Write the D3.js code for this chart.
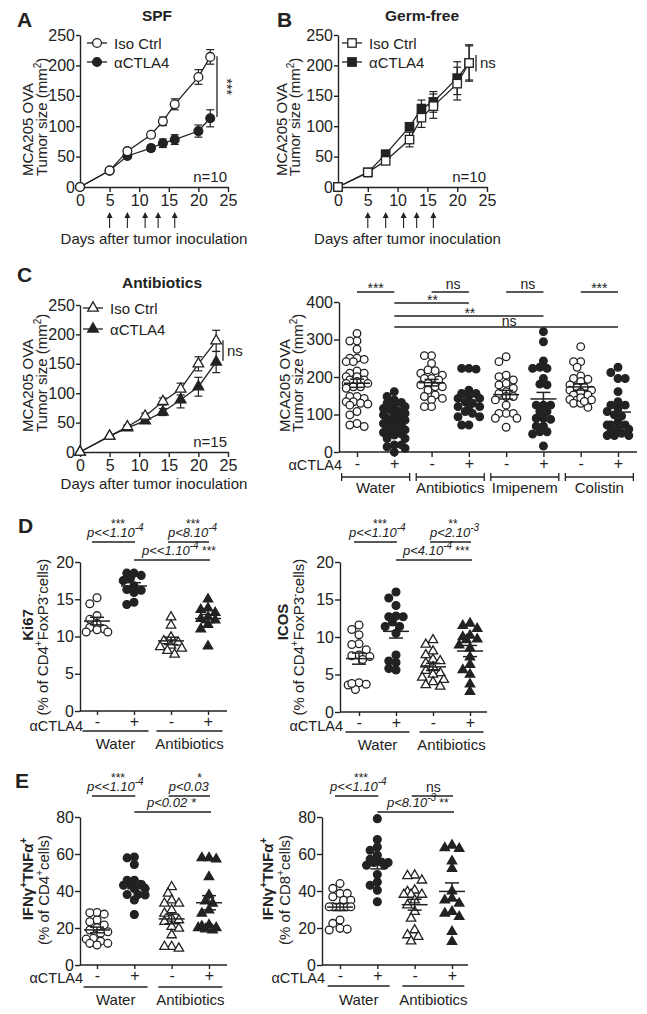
<!DOCTYPE html>
<html><head><meta charset="utf-8">
<script src="https://cdn.jsdelivr.net/npm/d3@7"></script>
<style>
body{margin:0;background:#fff}
svg{display:block}
text{font-family:"Liberation Sans",Arial,Helvetica,sans-serif;fill:#222}
</style>
</head><body>
<svg id="c" width="647" height="1014"></svg>
<script>
// ---------------- DATA ----------------
const dayTicks = [0,5,10,15,20,25];
const sizeTicks = [0,50,100,150,200,250];
const treatDays = [5,8,11,13.2,16];

// A: SPF
const daysA = [0,5,8,12,14,16,20,22];
const spfIso = [0,27,59,86,108,136,181,214];
const spfIsoErr = [0,2,3,5,7,9,12,12];
const spfCtla = [0,27,51,64,72,78,92,113];
const spfCtlaErr = [0,2,3,5,7,8,10,14];

// B: Germ-free
const daysB = [0,5,8,12,14,16,20,22];
const gfIso = [0,24,43,78,114,133,170,204];
const gfIsoErr = [0,2,4,12,16,20,27,30];
const gfCtla = [0,24,54,99,129,140,179,204];
const gfCtlaErr = [0,2,3,4,14,17,27,28];

// C left: Antibiotics
const daysC = [0,5,8,11,14,17,20,23];
const abIso = [0,27,43,61,86,107,150,189];
const abIsoErr = [0,2,3,5,6,10,12,18];
const abCtla = [0,27,41,53,68,89,111,153];
const abCtlaErr = [0,2,3,4,6,14,16,18];

// C right: tumor size by treatment
const treatGroups = ["Water","Antibiotics","Imipenem","Colistin"];
const waterIso = [316,296,296,274,250,247,250,241,241,216,210,210,201,201,192,188,192,183,183,174,174,170,148,143,148,134,134,130,128,125,108,99,76,68,72];
const waterCtla = [161,148,139,132,125,121,116,112,103,99,96,96,85,85,85,76,72,72,59,59,52,52,48,36,36,19,19,14,10,0,130,110,90,65,45];
const abxIso = [257,257,236,219,217,210,205,196,196,192,183,179,174,174,165,152,148,143,139,121,121];
const abxCtla = [221,223,223,165,156,156,150,143,143,134,130,121,121,121,108,103,94,94,72,72];
const imiIso = [254,241,205,201,192,183,179,170,161,156,148,148,139,125,103,103,103,90,90,66];
const imiCtla = [321,294,243,226,223,223,196,181,179,125,125,125,108,108,90,90,87,69,69,54,48,54,16];
const colIso = [281,241,241,226,203,196,194,188,179,172,172,165,165,160,152,152,139,140,139,130,130,119,145,135];
const colCtla = [226,212,196,196,161,134,125,125,116,108,99,96,72,72,72,61,61,44,44,44,50,55,80];

// D: Ki67 and ICOS
const kiWaterIso = [15.2,14.4,12.8,12.3,11.7,11.2,11.0,10.6,10.6,10.9];
const kiWaterCtla = [18.5,18.5,18.2,17.8,17.5,16.8,16.3,16.2,15.9,14.6,14.3];
const kiAbxIso = [12.6,11.5,9.9,9.4,9.2,8.8,8.6,8.4,8.1,7.6];
const kiAbxCtla = [15.0,13.8,13.6,13.2,12.6,12.4,12.2,11.6,11.0,8.7];
const icosWaterIso = [11.6,11.0,10.3,9.1,9.0,8.3,7.6,7.5,7.4,7.0,3.9,3.7,3.6,3.0,3.8];
const icosWaterCtla = [16.0,15.2,14.2,12.8,12.7,12.7,12.0,11.4,11.4,10.5,7.6,6.8,6.6,5.6,5.8];
const icosAbxIso = [9.6,9.0,8.1,7.6,7.0,6.8,6.5,6.0,5.5,5.2,5.0,4.6,4.3,4.0,3.6,3.4];
const icosAbxCtla = [11.8,11.5,11.1,10.2,10.0,9.7,9.6,8.9,8.5,7.3,6.3,5.6,5.0,3.7,2.7];
const pctTicks20 = [0,5,10,15,20];

// E: IFNg+TNFa+
const cd4WaterIso = [28.4,27.5,28.2,24.3,23.4,21.6,20.1,18.9,18.0,17.1,14.4,14.0,12.9,11.7,11.7,10.8];
const cd4WaterCtla = [57.9,58.4,54.3,45.8,45.8,43.5,43.1,43.5,41.3,41.3,38.1,37.8,38.1,35.1,27.3];
const cd4AbxIso = [42.2,38.7,35,33.3,33.3,29.7,27.9,25.2,24.3,23.4,20.7,19.8,16.2,9.9,9.0,9.9];
const cd4AbxCtla = [57.9,57.2,57.9,47.6,37.8,33.3,34.5,29.7,27.9,20.1,21.6,20.1,18.9,19.4,21];
const cd8WaterIso = [44,41.4,38.7,38.7,36.9,35,35,31.5,31.5,31.5,31.5,31.5,24.3,22.5,19.8,18.9,19.4];
const cd8WaterCtla = [79.1,67.8,63.8,62,59.3,55.4,55.7,55.4,57.2,53.9,53.9,48.9,43.1,44.9,40.4,34.2];
const cd8AbxIso = [48.5,45.8,48.2,40.4,39.6,38.1,38.1,38.1,35,32.4,28.8,25.2,18.9,16.2,15.3,12.9];
const cd8AbxCtla = [64.7,62.9,63.3,56.1,52.1,39.9,36,35,33.3,28.8,26.1,27.9,18,12.6];
const pctTicks80 = [0,20,40,60,80];

// ---------------- DRAWING ----------------
const INK = "#222";
const FONT = '"Liberation Sans", Arial, Helvetica, sans-serif';
const svg = d3.select("#c");

function styleAxis(g){
  g.attr("font-family",FONT).attr("font-size",16);
  g.selectAll("path,line").attr("stroke",INK).attr("stroke-width",1.4);
  g.selectAll("text").attr("fill",INK);
}
function txt(g,x,y,s,o={}){
  const t=g.append("text").attr("x",x).attr("y",y).text(s)
    .attr("font-size",o.size||15).attr("text-anchor",o.anchor||"start");
  if(o.bold) t.attr("font-weight","bold");
  if(o.italic) t.attr("font-style","italic");
  if(o.family) t.attr("font-family",o.family);
  return t;
}
function line(g,x1,y1,x2,y2,w){
  return g.append("line").attr("x1",x1).attr("y1",y1).attr("x2",x2).attr("y2",y2)
    .attr("stroke",INK).attr("stroke-width",w||1.4);
}
function marker(g,shape,filled,cx,cy,sz){
  let m;
  if(shape==="circle") m=g.append("circle").attr("cx",cx).attr("cy",cy).attr("r",sz);
  else if(shape==="square") m=g.append("rect").attr("x",cx-sz).attr("y",cy-sz).attr("width",2*sz).attr("height",2*sz);
  else m=g.append("path").attr("d",d3.symbol(d3.symbolTriangle,sz*sz*2.4)()).attr("transform",`translate(${cx},${cy})`);
  m.attr("fill",filled?INK:"#fff").attr("stroke",INK).attr("stroke-width",1.3);
  return m;
}
function panelLetter(x,y,s){
  txt(svg,x,y,s,{size:21,bold:true,family:'"Liberation Sans Narrow","Liberation Sans",Arial,sans-serif'});
}
function yLabelRot(x,y,anchor,parts,size){
  const t=svg.append("text").attr("transform",`translate(${x},${y}) rotate(-90)`)
    .attr("text-anchor",anchor).attr("font-size",size||15);
  parts.forEach(p=>{
    const ts=t.append("tspan").text(p.t);
    if(p.bold) ts.attr("font-weight","bold");
    if(p.sup){ ts.attr("font-size",10).attr("dy",-6); }
    if(p.after){ ts.attr("dy",6); }
  });
  return t;
}

// ---------- line charts ----------
function lineChart(o){
  const g=svg.append("g");
  const x=d3.scaleLinear().domain([0,25]).range([o.x0,o.x1]);
  const y=d3.scaleLinear().domain([0,250]).range([o.y0,o.y1]);
  g.append("g").attr("transform",`translate(0,${o.y0})`)
    .call(d3.axisBottom(x).tickValues(dayTicks).tickSize(5).tickSizeOuter(0).tickPadding(3)).call(styleAxis);
  g.append("g").attr("transform",`translate(${o.x0},0)`)
    .call(d3.axisLeft(y).tickValues(sizeTicks).tickSize(4).tickSizeOuter(0).tickPadding(1)).call(styleAxis);
  o.series.slice().reverse().forEach(s=>{
    const pts=o.days.map((d,i)=>({d,v:s.v[i],e:s.e[i]}));
    g.append("path").datum(pts).attr("d",d3.line().x(p=>x(p.d)).y(p=>y(p.v)))
      .attr("fill","none").attr("stroke",INK).attr("stroke-width",1.3);
    pts.filter(p=>p.e>2).forEach(p=>{
      const xx=x(p.d);
      line(g,xx,y(p.v+p.e),xx,y(p.v-p.e),1.2);
      line(g,xx-4,y(p.v+p.e),xx+4,y(p.v+p.e),1.2);
      line(g,xx-4,y(p.v-p.e),xx+4,y(p.v-p.e),1.2);
    });
    pts.forEach(p=>marker(g,o.shape,s.filled,x(p.d),y(p.v),o.msz));
  });
  o.series.forEach((s,i)=>{
    const ly=o.legY[i];
    line(g,o.legX-10,ly,o.legX+10,ly,1.3);
    marker(g,o.shape,s.filled,o.legX,ly,o.msz);
    txt(g,o.legX+17,ly+5.5,s.name,{size:15});
  });
  if(o.arrows){
    treatDays.forEach(d=>{
      const xx=x(d);
      line(g,xx,o.y0+41,xx,o.y0+29,1.1);
      g.append("path").attr("d",`M${xx},${o.y0+25}L${xx-3},${o.y0+31}L${xx+3},${o.y0+31}Z`).attr("fill",INK);
    });
  }
  txt(g,(o.x0+o.x1)/2+(o.labDx||0),o.xlabY,"Days after tumor inoculation",{size:15,anchor:"middle"});
  txt(g,o.x1-1,o.y0-5,o.n,{size:15,anchor:"end"});
  txt(g,o.titleX,o.titleY,o.title,{size:15.5,bold:true,anchor:"middle"});
  const sx=o.sig.x;
  line(g,sx,y(o.sig.top),sx,y(o.sig.bot),1.3);
  if(o.sig.rot){
    g.append("text").attr("transform",`translate(${sx+5},${(y(o.sig.top)+y(o.sig.bot))/2}) rotate(90)`)
      .attr("text-anchor","middle").attr("font-size",14).text(o.sig.label);
  } else {
    txt(g,sx+4,(y(o.sig.top)+y(o.sig.bot))/2+5,o.sig.label,{size:15});
  }
  return {x,y};
}

lineChart({x0:80,x1:228,y0:187,y1:35,days:daysA,shape:"circle",msz:4.4,
  series:[{name:"Iso Ctrl",v:spfIso,e:spfIsoErr,filled:false},{name:"\u03b1CTLA4",v:spfCtla,e:spfCtlaErr,filled:true}],
  legX:97,legY:[43,62],arrows:true,xlabY:244,n:"n=10",title:"SPF",titleX:157,titleY:21,
  sig:{x:217,top:215,bot:115,label:"***",rot:true}});
lineChart({x0:338,x1:487,y0:187,y1:35,days:daysB,shape:"square",msz:4.2,
  series:[{name:"Iso Ctrl",v:gfIso,e:gfIsoErr,filled:false},{name:"\u03b1CTLA4",v:gfCtla,e:gfCtlaErr,filled:true}],
  legX:352,legY:[43,62],arrows:true,xlabY:244,labDx:-5,n:"n=10",title:"Germ-free",titleX:422,titleY:21,
  sig:{x:476,top:217,bot:190,label:"ns"}});
lineChart({x0:80,x1:228,y0:452,y1:305,days:daysC,shape:"triangle",msz:4.5,
  series:[{name:"Iso Ctrl",v:abIso,e:abIsoErr,filled:false},{name:"\u03b1CTLA4",v:abCtla,e:abCtlaErr,filled:true}],
  legX:93,legY:[308,329],arrows:false,xlabY:489,n:"n=15",title:"Antibiotics",titleX:162,titleY:288,
  sig:{x:223,top:190,bot:155,label:"ns"}});

[[33,47,176],[287,300,176],[33,47,432],[290,303,432]].forEach(([a,b,yy])=>{
  yLabelRot(a,yy,"start",[{t:"MCA205 OVA"}]);
  yLabelRot(b,yy,"start",[{t:"Tumor  size (mm"},{t:"2",sup:true},{t:")",after:true}]);
});

panelLetter(17,27,"A");
panelLetter(277,27,"B");
panelLetter(17,282,"C");
panelLetter(18,533,"D");
panelLetter(15,788,"E");

// ---------- dot plots ----------
function swarm(vals,y,minD,step,maxOff){
  const placed=[],out=new Array(vals.length);
  vals.map((v,i)=>({v,i})).sort((a,b)=>b.v-a.v).forEach(p=>{
    const py=y(p.v);
    let best=null,bestD=-1,chosen=null;
    for(let k=0;;k++){
      const off=k===0?0:(k%2?-1:1)*Math.ceil(k/2)*step;
      if(Math.abs(off)>maxOff) break;
      const dmin=placed.length?d3.min(placed,q=>Math.hypot(q.x-off,q.y-py)):1e9;
      if(dmin>=minD){chosen=off;break;}
      if(dmin>bestD){bestD=dmin;best=off;}
    }
    if(chosen===null) chosen=best;
    placed.push({x:chosen,y:py}); out[p.i]=chosen;
  });
  return out;
}
function dotPlot(o){
  const g=svg.append("g");
  const y=d3.scaleLinear().domain(o.domain).range([o.y0,o.y1]);
  const x=d3.scalePoint().domain(d3.range(o.groups.length)).range(o.gx);
  line(g,o.x0,o.y0,o.x1,o.y0);
  const ax=g.append("g").attr("transform",`translate(0,${o.y0})`)
    .call(d3.axisBottom(x).tickSize(o.tick||5).tickPadding(o.tickPad||1).tickFormat(i=>o.groups[i].ctla?"+":"-"))
    .call(styleAxis);
  ax.select(".domain").remove();
  g.append("g").attr("transform",`translate(${o.x0},0)`)
    .call(d3.axisLeft(y).tickValues(o.ticks).tickSize(5).tickSizeOuter(0).tickPadding(1)).call(styleAxis);
  txt(g,o.ctlaX,o.signY+2,"\u03b1CTLA4",{size:14.5,anchor:"end"});
  o.groups.forEach((gr,i)=>{
    const cx=x(i);
    const offs=swarm(gr.v,y,o.minD,o.step,o.maxOff);
    gr.v.forEach((v,j)=>marker(g,gr.shape,gr.ctla,cx+offs[j],y(v),gr.shape==="circle"?o.r:o.tr));
    const m=d3.mean(gr.v), se=d3.deviation(gr.v)/Math.sqrt(gr.v.length);
    line(g,cx-13,y(m),cx+13,y(m),1.5);
    line(g,cx,y(m-se),cx,y(m+se),1.5);
    line(g,cx-7,y(m-se),cx+7,y(m-se),1.5);
    line(g,cx-7,y(m+se),cx+7,y(m+se),1.5);
  });
  o.cats.forEach((c,k)=>{
    const a=x(2*k),b=x(2*k+1),mid=(a+b)/2;
    line(g,mid-o.bw,o.brY,mid+o.bw,o.brY,1.3);
    if(o.caps){line(g,mid-o.bw,o.brY-4,mid-o.bw,o.brY+4,1.3);line(g,mid+o.bw,o.brY-4,mid+o.bw,o.brY+4,1.3);}
    txt(g,mid,o.catY,c,{size:15,anchor:"middle"});
  });
  return {x,y,g};
}
function starText(g,x,y,s,size){ return txt(g,x,y,s,{size:size||12,anchor:"middle"}); }
function pval(g,x,y,main,sup,tail,anchor){
  const t=g.append("text").attr("x",x).attr("y",y).attr("font-size",13).attr("text-anchor",anchor||"start");
  t.append("tspan").text(main).attr("font-style","italic");
  if(sup) t.append("tspan").text(sup).attr("font-style","italic").attr("font-size",10).attr("dy",-6);
  if(tail) t.append("tspan").text(tail).attr("font-size",12).attr("dy",sup?6:0);
  return t;
}

// C right
const cR=dotPlot({x0:339,x1:637,y0:452,y1:302,domain:[0,400],ticks:[0,100,200,300,400],
  gx:[357,618],minD:6.4,step:3.6,maxOff:12.6,r:3.8,tr:4,
  groups:[{v:waterIso},{v:waterCtla,ctla:1},{v:abxIso},{v:abxCtla,ctla:1},{v:imiIso},{v:imiCtla,ctla:1},{v:colIso},{v:colCtla,ctla:1}].map(d=>({...d,shape:"circle"})),
  cats:treatGroups,bw:34,brY:477,caps:true,catY:493,signY:468,ctlaX:342});
{
  const g=cR.g,x=cR.x;
  [[0,1,"***"],[2,3,"ns"],[4,5,"ns"],[6,7,"***"]].forEach(([a,b,l])=>{
    line(g,x(a),292,x(b),292,1.3);
    if(l==="ns") txt(g,(x(a)+x(b))/2+3,289,l,{size:14,anchor:"middle"}); else starText(g,(x(a)+x(b))/2,293,l,14);
  });
  line(g,x(1),303,x(3),303,1.3); starText(g,(x(1)+x(3))/2+1,305,"**",14);
  line(g,x(1),316,x(5),316,1.3); starText(g,(x(1)+x(5))/2+1,318,"**",14);
  line(g,x(1),327,x(7),327,1.3); txt(g,(x(1)+x(7))/2+3,326,"ns",{size:14,anchor:"middle"});
}

// D, E
const sw={minD:7,step:3.6,maxOff:13,r:3.9,tr:4,tick:4,tickPad:1};
const dL=dotPlot({...sw,x0:80,x1:227,y0:711,y1:562,domain:[0,20],ticks:pctTicks20,gx:[97,208],
  groups:[{v:kiWaterIso,shape:"circle"},{v:kiWaterCtla,shape:"circle",ctla:1},{v:kiAbxIso,shape:"triangle"},{v:kiAbxCtla,shape:"triangle",ctla:1}],
  cats:["Water","Antibiotics"],bw:33,brY:731,catY:749,signY:729,ctlaX:83});
const dR=dotPlot({...sw,x0:340,x1:487,y0:712,y1:562,domain:[0,20],ticks:pctTicks20,gx:[359,470],
  groups:[{v:icosWaterIso,shape:"circle"},{v:icosWaterCtla,shape:"circle",ctla:1},{v:icosAbxIso,shape:"triangle"},{v:icosAbxCtla,shape:"triangle",ctla:1}],
  cats:["Water","Antibiotics"],bw:32,brY:732,catY:750,signY:729,ctlaX:343});
const eL=dotPlot({...sw,x0:80,x1:227,y0:965,y1:817,domain:[0,80],ticks:pctTicks80,gx:[97,209],
  groups:[{v:cd4WaterIso,shape:"circle"},{v:cd4WaterCtla,shape:"circle",ctla:1},{v:cd4AbxIso,shape:"triangle"},{v:cd4AbxCtla,shape:"triangle",ctla:1}],
  cats:["Water","Antibiotics"],bw:32,brY:987,catY:1005,signY:981,ctlaX:83});
const eR=dotPlot({...sw,x0:322,x1:468,y0:965,y1:817,domain:[0,80],ticks:pctTicks80,gx:[340,452],
  groups:[{v:cd8WaterIso,shape:"circle"},{v:cd8WaterCtla,shape:"circle",ctla:1},{v:cd8AbxIso,shape:"triangle"},{v:cd8AbxCtla,shape:"triangle",ctla:1}],
  cats:["Water","Antibiotics"],bw:31,brY:986,catY:1005,signY:981,ctlaX:325});

function pAnnot(p,y1,y2,a){
  const g=p.g,x=p.x;
  line(g,x(0)-5,y1+5,x(1)+1,y1+5,1.3);
  line(g,x(2)-3,y1+5,x(3)+1,y1+5,1.3);
  if(a.t1){ pval(g,x(0)-10,y1,a.t1[0],a.t1[1]); starText(g,x(0)+21,y1-9,a.s1); }
  if(a.t2){ pval(g,x(2)-3,y1,a.t2[0],a.t2[1]); starText(g,x(2)+a.s2dx,y1-9,a.s2); }
  if(a.ns2){ txt(g,(x(2)+x(3))/2,y1+1,"ns",{size:14,anchor:"middle"}); }
  line(g,x(1),y2+5,x(3)+2,y2+5,1.3);
  pval(g,a.r2x,y2,a.r2[0],a.r2[1],a.r2[2]);
}
pAnnot(dL,537,555,{t1:["p<<1.10","-4"],s1:"***",t2:["p<8.10","-4"],s2:"***",s2dx:22,r2:["p<<1.10","-4"," ***"],r2x:142});
pAnnot(dR,537,555,{t1:["p<<1.10","-4"],s1:"***",t2:["p<2.10","-3"],s2:"**",s2dx:20,r2:["p<4.10","-4"," ***"],r2x:403});
pAnnot(eL,791,807,{t1:["p<<1.10","-4"],s1:"***",t2:["p<0.03",""],s2:"*",s2dx:28,r2:["p<0.02 *","",""],r2x:147});
pAnnot(eR,791,807,{t1:["p<<1.10","-4"],s1:"***",ns2:true,r2:["p<8.10","-3"," **"],r2x:387});

function twoLine(xb1,yc1,first,xb2,yc2,second){
  yLabelRot(xb1,yc1,"middle",first);
  yLabelRot(xb2,yc2,"middle",second);
}
twoLine(33,625,[{t:"Ki67",bold:true}],48,637,[{t:"(% of CD4"},{t:"+",sup:true},{t:"FoxP3",after:true},{t:"-",sup:true},{t:"cells)",after:true}]);
twoLine(288,622,[{t:"ICOS",bold:true}],304,637,[{t:"(% of CD4"},{t:"+",sup:true},{t:"FoxP3",after:true},{t:"-",sup:true},{t:"cells)",after:true}]);
twoLine(33,879,[{t:"IFN\u03b3",bold:true},{t:"+",sup:true,bold:true},{t:"TNF\u03b1",bold:true,after:true},{t:"+",sup:true,bold:true}],
        49,890,[{t:"(% of CD4"},{t:"+",sup:true},{t:"cells)",after:true}]);
twoLine(273,879,[{t:"IFN\u03b3",bold:true},{t:"+",sup:true,bold:true},{t:"TNF\u03b1",bold:true,after:true},{t:"+",sup:true,bold:true}],
        290,890,[{t:"(% of CD8"},{t:"+",sup:true},{t:"cells)",after:true}]);
</script>
</body></html>
